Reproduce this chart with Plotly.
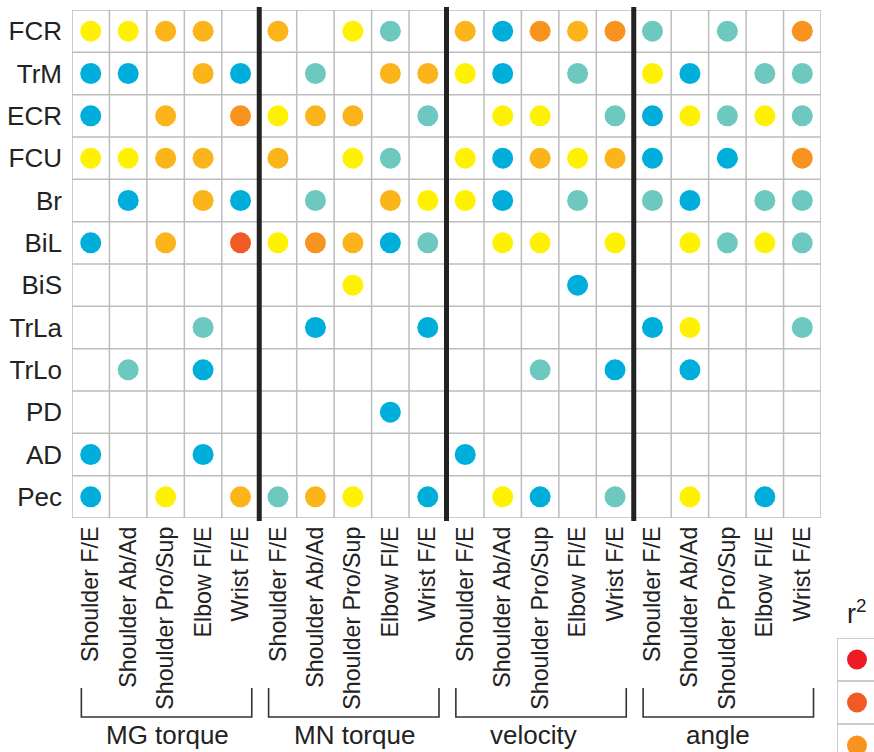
import plotly.graph_objects as go

# Muscles (rows, top to bottom) and degrees of freedom (columns)
muscles = ["FCR", "TrM", "ECR", "FCU", "Br", "BiL", "BiS", "TrLa", "TrLo", "PD", "AD", "Pec"]
dofs = ["Shoulder F/E", "Shoulder Ab/Ad", "Shoulder Pro/Sup", "Elbow Fl/E", "Wrist F/E"]
groups = ["MG torque", "MN torque", "velocity", "angle"]

# r² level per cell, groups concatenated (5 DOFs each).
# R red, N orange-red, O orange, A amber, Y yellow, T teal, B blue, '.' none
mg_torque = ["YYAA.", "BB.AB", "B.A.O", "YYAA.", ".B.AB", "B.A.N",
             ".....", "...T.", ".T.B.", ".....", "B..B.", "B.Y.A"]
mn_torque = ["A.YT.", ".T.AA", "YAA.T", "A.YT.", ".T.AY", "YOABT",
             "..Y..", ".B..B", ".....", "...B.", ".....", "TAY.B"]
velocity = ["ABOAO", "YB.T.", ".YY.T", "YBAYA", "YB.T.", ".YY.Y",
            "...B.", ".....", "..T.B", ".....", "B....", ".YB.T"]
angle = ["T.T.O", "YB.TT", "BYTYT", "B.B.O", "TB.TT", ".YTYT",
         ".....", "BY..T", ".B...", ".....", ".....", ".Y.B."]

# Colour scale of r² levels, highest first
r2_levels = ["R", "N", "O", "A", "Y", "T", "B"]
r2_colors = ["#ED1C24", "#F15A24", "#F7931E", "#FBB419", "#FFF200", "#6DC8BF", "#00AEDB"]

W, H = 874, 752
ML, MT = 72, 10
PW, PH = W - ML, H - MT
GRID_R, GRID_B = 821, 518


def px_x(px):
    return (px - ML) / PW


def px_y(py):
    return (H - py) / PH


n_cols = len(dofs) * len(groups)
n_rows = len(muscles)
col_labels = dofs * len(groups)
blocks = [mg_torque, mn_torque, velocity, angle]
codes = ["".join(b[i] for b in blocks) for i in range(n_rows)]

fig = go.Figure()

for lvl, col in zip(r2_levels, r2_colors):
    xs, ys = [], []
    for r, row in enumerate(codes):
        for c, ch in enumerate(row):
            if ch == lvl:
                xs.append(c)
                ys.append(r)
    if xs:
        fig.add_trace(go.Scatter(
            x=xs, y=ys, mode="markers",
            marker=dict(size=21, color=col, line=dict(width=0)),
            showlegend=False, hoverinfo="skip"))

# Colour key (a single column of cells on the right edge)
fig.add_trace(go.Scatter(
    x=[0] * len(r2_levels), y=list(range(len(r2_levels))), mode="markers",
    marker=dict(size=20, color=r2_colors, line=dict(width=0)),
    xaxis="x2", yaxis="y2", showlegend=False, hoverinfo="skip", cliponaxis=True))

shapes = []
grid_line = dict(color="#BDBDBD", width=1.5)
for c in range(n_cols + 1):
    shapes.append(dict(type="line", xref="x", yref="y", x0=c - 0.5, x1=c - 0.5,
                       y0=-0.5, y1=n_rows - 0.5, line=grid_line, layer="below"))
for r in range(n_rows + 1):
    shapes.append(dict(type="line", xref="x", yref="y", x0=-0.5, x1=n_cols - 0.5,
                       y0=r - 0.5, y1=r - 0.5, line=grid_line, layer="below"))

# Heavy separators between groups
for g in range(1, len(groups)):
    xg = g * len(dofs) - 0.5
    shapes.append(dict(type="line", xref="x", yref="paper", x0=xg, x1=xg,
                       y0=px_y(521), y1=px_y(7), line=dict(color="#222222", width=5)))

# Brackets under the column labels
for g in range(len(groups)):
    x0 = g * len(dofs) - 0.25
    x1 = g * len(dofs) + len(dofs) - 0.7
    yt, yb = px_y(688), px_y(717)
    shapes.append(dict(type="path", xref="x", yref="paper",
                       path=f"M {x0} {yt} L {x0} {yb} L {x1} {yb} L {x1} {yt}",
                       line=dict(color="#333333", width=1.6)))

# Key box
key_line = dict(color="#BDBDBD", width=1.5)
shapes.append(dict(type="line", xref="x2", yref="y2", x0=-0.5, x1=-0.5,
                   y0=-0.5, y1=len(r2_levels) - 0.5, line=key_line))
for k in range(len(r2_levels) + 1):
    shapes.append(dict(type="line", xref="x2", yref="y2", x0=-0.5, x1=2,
                       y0=k - 0.5, y1=k - 0.5, line=key_line))

annotations = []
group_cx = [2.05, 7.04, 11.83, 16.75]
for name, cx in zip(groups, group_cx):
    annotations.append(dict(text=name, x=cx, xref="x", y=px_y(735), yref="paper",
                            showarrow=False, xanchor="center", yanchor="middle",
                            font=dict(size=26, color="#222222")))
annotations.append(dict(text="r<sup>2</sup>", x=px_x(857), y=px_y(612),
                        xref="paper", yref="paper", showarrow=False,
                        xanchor="center", yanchor="middle",
                        font=dict(size=27, color="#222222")))

font_family = "Liberation Sans, Arial, sans-serif"
key_left = 837
key_w = 40

fig.update_layout(
    width=W, height=H,
    margin=dict(l=ML, r=0, t=MT, b=0),
    paper_bgcolor="white", plot_bgcolor="white",
    font=dict(family=font_family, color="#222222"),
    shapes=shapes, annotations=annotations,
    xaxis=dict(domain=[0, px_x(GRID_R)], range=[-0.5, n_cols - 0.5],
               tickmode="array", tickvals=list(range(n_cols)), ticktext=col_labels,
               tickangle=-90, tickfont=dict(size=23.2, color="#222222"),
               ticklabelstandoff=3,
               showgrid=False, zeroline=False, showline=False, ticks="", fixedrange=True),
    yaxis=dict(domain=[px_y(GRID_B), 1], range=[n_rows - 0.5, -0.5],
               tickmode="array", tickvals=list(range(n_rows)), ticktext=muscles,
               tickfont=dict(size=26, color="#222222"), ticklabelstandoff=9,
               showgrid=False, zeroline=False, showline=False, ticks="", fixedrange=True),
    xaxis2=dict(domain=[px_x(key_left), 1], anchor="y2",
                range=[-0.5, -0.5 + (W - key_left) / key_w],
                visible=False, fixedrange=True),
    yaxis2=dict(domain=[0, px_y(638)], anchor="x2",
                range=[-0.5 + (H - 638) / 43, -0.5],
                visible=False, fixedrange=True),
)

fig.write_html("out.html")
